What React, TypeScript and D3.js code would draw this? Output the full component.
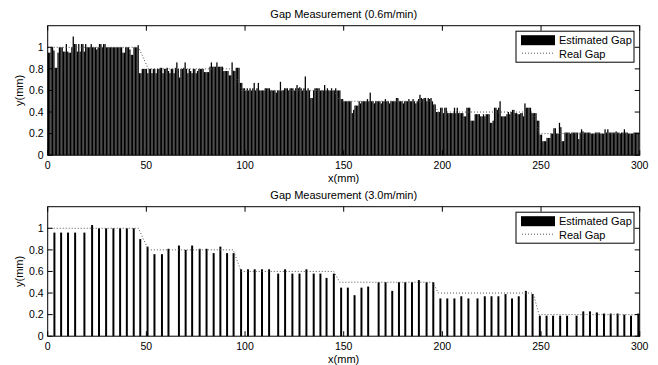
import * as d3 from "d3";
import React, { useEffect, useRef } from "react";

const xTicks = [0, 50, 100, 150, 200, 250, 300];
const yTicks = [0, 0.2, 0.4, 0.6, 0.8, 1];
const seriesNames = ["Estimated Gap", "Real Gap"];
const titles = ["Gap Measurement (0.6m/min)", "Gap Measurement (3.0m/min)"];

// real gap profile (mm) of the stepped test piece
const realX = [0, 46, 51, 94, 98, 145, 148, 195, 198, 246, 249, 300];
const realY = [1, 1, 0.8, 0.8, 0.6, 0.6, 0.5, 0.5, 0.4, 0.4, 0.2, 0.2];

// 0.6 m/min: one estimate every 0.7 mm
const slowStep = 0.7;
const slowGap = [
  0.95, 0.95, 1.0, 1.0, 0.97, 0.81, 0.81, 0.95, 1.0, 1.0,
  1.0, 0.96, 0.96, 1.03, 0.96, 0.95, 0.95, 1.0, 1.1, 1.03,
  1.03, 0.96, 1.03, 0.96, 1.03, 1.03, 0.96, 1.03, 1.0, 1.0,
  1.0, 1.03, 1.0, 1.0, 1.0, 0.98, 1.0, 1.03, 1.03, 1.0,
  1.03, 1.03, 1.0, 1.0, 1.0, 1.0, 1.0, 1.0, 1.0, 1.0,
  1.0, 1.0, 1.0, 1.0, 0.95, 0.95, 1.0, 1.0, 1.0, 0.98,
  0.93, 0.93, 1.0, 1.0, 1.0, 1.02, 0.76, 0.76, 0.8, 0.8,
  0.8, 0.8, 0.76, 0.8, 0.8, 0.76, 0.8, 0.8, 0.76, 0.8,
  0.8, 0.81, 0.81, 0.76, 0.8, 0.8, 0.81, 0.78, 0.76, 0.8,
  0.8, 0.76, 0.81, 0.86, 0.8, 0.72, 0.8, 0.8, 0.81, 0.86,
  0.8, 0.76, 0.8, 0.78, 0.76, 0.8, 0.8, 0.76, 0.78, 0.8,
  0.8, 0.8, 0.8, 0.77, 0.77, 0.77, 0.77, 0.82, 0.86, 0.82,
  0.82, 0.82, 0.86, 0.82, 0.82, 0.82, 0.82, 0.78, 0.78, 0.78,
  0.78, 0.74, 0.74, 0.86, 0.78, 0.78, 0.81, 0.81, 0.81, 0.67,
  0.67, 0.62, 0.62, 0.6, 0.62, 0.6, 0.62, 0.6, 0.62, 0.67,
  0.6, 0.62, 0.67, 0.6, 0.6, 0.6, 0.6, 0.62, 0.62, 0.62,
  0.62, 0.6, 0.6, 0.6, 0.6, 0.58, 0.6, 0.6, 0.68, 0.6,
  0.6, 0.62, 0.62, 0.62, 0.6, 0.62, 0.62, 0.62, 0.6, 0.62,
  0.65, 0.62, 0.63, 0.62, 0.6, 0.62, 0.73, 0.6, 0.62, 0.6,
  0.53, 0.53, 0.6, 0.62, 0.62, 0.62, 0.62, 0.6, 0.6, 0.6,
  0.65, 0.6, 0.62, 0.6, 0.6, 0.62, 0.6, 0.6, 0.62, 0.6,
  0.6, 0.6, 0.52, 0.52, 0.5, 0.5, 0.5, 0.5, 0.5, 0.5,
  0.39, 0.42, 0.46, 0.46, 0.46, 0.5, 0.48, 0.5, 0.5, 0.5,
  0.5, 0.52, 0.5, 0.58, 0.5, 0.5, 0.48, 0.5, 0.5, 0.5,
  0.5, 0.48, 0.5, 0.5, 0.52, 0.5, 0.5, 0.48, 0.5, 0.5,
  0.5, 0.5, 0.53, 0.53, 0.5, 0.5, 0.5, 0.48, 0.5, 0.5,
  0.5, 0.52, 0.5, 0.5, 0.52, 0.5, 0.48, 0.5, 0.52, 0.56,
  0.53, 0.52, 0.53, 0.53, 0.5, 0.53, 0.52, 0.53, 0.5, 0.47,
  0.47, 0.4, 0.4, 0.4, 0.44, 0.44, 0.39, 0.44, 0.44, 0.39,
  0.39, 0.39, 0.39, 0.39, 0.44, 0.39, 0.44, 0.39, 0.39, 0.39,
  0.39, 0.36, 0.36, 0.44, 0.44, 0.44, 0.32, 0.32, 0.32, 0.38,
  0.38, 0.38, 0.38, 0.36, 0.36, 0.38, 0.36, 0.38, 0.38, 0.38,
  0.3, 0.3, 0.32, 0.44, 0.44, 0.42, 0.44, 0.5, 0.36, 0.36,
  0.36, 0.36, 0.38, 0.4, 0.38, 0.4, 0.42, 0.42, 0.39, 0.39,
  0.38, 0.38, 0.39, 0.39, 0.36, 0.48, 0.44, 0.44, 0.44, 0.44,
  0.39, 0.39, 0.39, 0.39, 0.32, 0.32, 0.19, 0.19, 0.13, 0.13,
  0.13, 0.16, 0.16, 0.16, 0.2, 0.2, 0.25, 0.25, 0.2, 0.2,
  0.3, 0.26, 0.13, 0.13, 0.21, 0.21, 0.21, 0.21, 0.2, 0.21,
  0.21, 0.21, 0.21, 0.21, 0.15, 0.21, 0.24, 0.22, 0.21, 0.21,
  0.21, 0.21, 0.21, 0.2, 0.2, 0.2, 0.21, 0.21, 0.21, 0.21,
  0.2, 0.2, 0.2, 0.24, 0.21, 0.24, 0.21, 0.21, 0.21, 0.21,
  0.21, 0.22, 0.21, 0.21, 0.2, 0.21, 0.21, 0.24, 0.21, 0.21,
  0.2, 0.2, 0.2, 0.2, 0.21, 0.21, 0.21, 0.21,
];

// 3.0 m/min: sample positions (mm) and estimates
const fastX = [
  3.4, 6.8, 10.3, 13.9, 18.6, 22.5, 26, 29.6, 33.3, 36.7,
  40.1, 43.6, 46.9, 50.6, 54.1, 57.9, 61.2, 66.5, 69.9, 73.2,
  77, 80.5, 84.1, 87.5, 90.9, 94.2, 98, 101.5, 104.9, 108.6,
  112.2, 116.8, 120.3, 124, 127.6, 131.1, 134.8, 138.2, 141.3, 145,
  148.7, 152.1, 155.5, 159, 162.4, 167.7, 171.2, 174.6, 178, 181.2,
  184.6, 188.1, 192, 195.4, 199, 202.5, 206.1, 209.6, 213.2, 217.8,
  221.5, 224.9, 228.4, 232, 235.3, 238.7, 242.3, 245.7, 249.4, 252.8,
  256.1, 259.7, 263.2, 268, 271.4, 274.8, 278.3, 281.9, 285.3, 288.8,
  292.2, 295.6, 299.3,
];
const fastGap = [
  0.96, 0.96, 0.96, 0.96, 0.96, 1.03, 1.0, 1.0, 1.0, 1.0,
  1.0, 1.0, 0.9, 0.83, 0.76, 0.76, 0.81, 0.84, 0.8, 0.84,
  0.81, 0.81, 0.77, 0.83, 0.77, 0.77, 0.62, 0.62, 0.62, 0.62,
  0.62, 0.58, 0.62, 0.58, 0.58, 0.62, 0.58, 0.58, 0.54, 0.58,
  0.45, 0.45, 0.38, 0.45, 0.46, 0.5, 0.5, 0.42, 0.5, 0.5,
  0.5, 0.52, 0.5, 0.5, 0.35, 0.35, 0.35, 0.37, 0.35, 0.35,
  0.37, 0.37, 0.37, 0.39, 0.35, 0.37, 0.42, 0.39, 0.19, 0.19,
  0.19, 0.19, 0.19, 0.19, 0.23, 0.23, 0.22, 0.21, 0.21, 0.21,
  0.2, 0.19, 0.21,
];

const font = "'Liberation Sans', Arial, Helvetica, sans-serif";

export default function App() {
  const ref = useRef<SVGSVGElement>(null);

  useEffect(() => {
    const width = 658;
    const height = 365;
    const left = 47.7;
    const right = 639.7;
    const ph = 129.5;
    const tick = 5;

    const svg = d3.select(ref.current).attr("width", width).attr("height", height);
    svg.selectAll("*").remove();
    svg.append("rect").attr("width", width).attr("height", height).attr("fill", "#fff");

    const panels = [
      { top: 25.7, title: titles[0], xs: slowGap.map((_, i) => slowStep * (i + 0.5)), ys: slowGap, barW: 0.64 },
      { top: 206.7, title: titles[1], xs: fastX, ys: fastGap, barW: 1.0 },
    ];

    panels.forEach((p) => {
      const x = d3.scaleLinear().domain([0, 300]).range([left, right]);
      const y = d3.scaleLinear().domain([0, 1.2]).range([p.top + ph, p.top]);
      const g = svg.append("g");

      g.selectAll("rect.bar")
        .data(d3.zip(p.xs, p.ys))
        .join("rect")
        .attr("class", "bar")
        .attr("x", (d) => x(d[0] - p.barW / 2))
        .attr("width", x(p.barW) - x(0))
        .attr("y", (d) => y(d[1]))
        .attr("height", (d) => y(0) - y(d[1]))
        .attr("fill", "#000");

      const line = d3
        .line<number>()
        .x((_, i) => x(realX[i]))
        .y((d) => y(d));
      g.append("path")
        .attr("d", line(realY))
        .attr("fill", "none")
        .attr("stroke", "#555")
        .attr("stroke-width", 1)
        .attr("stroke-dasharray", "1 2");

      // box + inward ticks
      g.append("rect")
        .attr("x", left)
        .attr("y", p.top)
        .attr("width", right - left)
        .attr("height", ph)
        .attr("fill", "none")
        .attr("stroke", "#000")
        .attr("stroke-width", 1);

      g.selectAll("line.xt")
        .data(xTicks)
        .join("line")
        .attr("x1", (d) => x(d))
        .attr("x2", (d) => x(d))
        .attr("y1", y(0))
        .attr("y2", y(0) - tick)
        .attr("stroke", "#000");
      g.selectAll("line.xtt")
        .data(xTicks)
        .join("line")
        .attr("x1", (d) => x(d))
        .attr("x2", (d) => x(d))
        .attr("y1", p.top)
        .attr("y2", p.top + tick)
        .attr("stroke", "#000");
      g.selectAll("line.yt")
        .data(yTicks)
        .join("line")
        .attr("x1", left)
        .attr("x2", left + tick)
        .attr("y1", (d) => y(d))
        .attr("y2", (d) => y(d))
        .attr("stroke", "#000");
      g.selectAll("line.ytr")
        .data(yTicks)
        .join("line")
        .attr("x1", right)
        .attr("x2", right - tick)
        .attr("y1", (d) => y(d))
        .attr("y2", (d) => y(d))
        .attr("stroke", "#000");

      const fmt = d3.format("~g");
      g.selectAll("text.xl")
        .data(xTicks)
        .join("text")
        .attr("x", (d) => x(d))
        .attr("y", y(0) + 13.5)
        .attr("text-anchor", "middle")
        .attr("font-family", font)
        .attr("font-size", 10.5)
        .text((d) => fmt(d));
      g.selectAll("text.yl")
        .data(yTicks)
        .join("text")
        .attr("x", left - 4)
        .attr("y", (d) => y(d))
        .attr("dy", "0.35em")
        .attr("text-anchor", "end")
        .attr("font-family", font)
        .attr("font-size", 10.5)
        .text((d) => fmt(d));

      g.append("text")
        .attr("x", (left + right) / 2)
        .attr("y", y(0) + 26.5)
        .attr("text-anchor", "middle")
        .attr("font-family", font)
        .attr("font-size", 11)
        .text("x(mm)");
      g.append("text")
        .attr("transform", `translate(23, ${p.top + ph / 2}) rotate(-90)`)
        .attr("text-anchor", "middle")
        .attr("font-family", font)
        .attr("font-size", 11)
        .text("y(mm)");
      g.append("text")
        .attr("x", (left + right) / 2)
        .attr("y", p.top - 7.5)
        .attr("text-anchor", "middle")
        .attr("font-family", font)
        .attr("font-size", 11)
        .text(p.title);

      // legend
      const lx = 516;
      const ly = p.top + 5.5;
      const lg = g.append("g");
      lg.append("rect")
        .attr("x", lx)
        .attr("y", ly)
        .attr("width", 118)
        .attr("height", 31)
        .attr("fill", "#fff")
        .attr("stroke", "#000");
      lg.append("rect")
        .attr("x", lx + 5)
        .attr("y", ly + 4)
        .attr("width", 34)
        .attr("height", 10)
        .attr("fill", "#000");
      lg.append("line")
        .attr("x1", lx + 6)
        .attr("x2", lx + 38)
        .attr("y1", ly + 22)
        .attr("y2", ly + 22)
        .attr("stroke", "#555")
        .attr("stroke-dasharray", "1 2");
      lg.selectAll("text")
        .data(seriesNames)
        .join("text")
        .attr("x", lx + 43)
        .attr("y", (_, i) => ly + 13 + i * 13.5)
        .attr("font-family", font)
        .attr("font-size", 11)
        .text((d) => d);
    });
  }, []);

  return (
    <div style={{ position: "absolute", left: 0, top: 0 }}>
      <svg ref={ref} style={{ display: "block" }}></svg>
    </div>
  );
}
